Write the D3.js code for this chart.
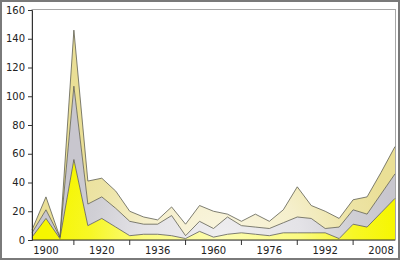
<!DOCTYPE html>
<html><head><meta charset="utf-8">
<script src="https://cdn.jsdelivr.net/npm/d3@7"></script>
<style>body{margin:0;background:#fff}svg{display:block}</style>
</head><body><script>
const years = [1896,1900,1904,1908,1912,1920,1924,1928,1932,1936,1948,1952,1956,1960,1964,1968,1972,1976,1980,1984,1988,1992,1996,2000,2004,2008,2012];
const gold   = [2,15,1,56,10,15,9,3,4,4,3,1,6,2,4,5,4,3,5,5,5,5,1,11,9,19,29];
const silver = [3,6,1,51,15,15,13,10,7,7,14,2,7,6,12,5,5,5,7,11,10,3,8,10,9,13,17];
const bronze = [2,9,0,39,16,13,12,7,5,3,6,8,11,12,2,3,9,5,9,21,9,12,6,7,12,15,19];
const seriesNames = ["gold","silver","bronze"];
const seriesColors = ["#f6f600","#c8c6ce","#eadf96"];
const yTicks = [0,20,40,60,80,100,120,140,160];
const xLabels = [1900,1920,1936,1960,1976,1992,2008];
const xTickYears = [1908,1928,1952,1968,1984,2000];

const W = 400, H = 260;
const m = {l:32, r:5, t:10, b:20};
const svg = d3.select("body").append("svg").attr("width",W).attr("height",H);

const table = years.map((y,i)=>({year:y, gold:gold[i], silver:silver[i], bronze:bronze[i]}));
const x = d3.scalePoint().domain(years).range([m.l, W-m.r]).padding(0);
const y = d3.scaleLinear().domain([0,160]).range([H-m.b, m.t]);

const stack = d3.stack().keys(seriesNames)(table);

const defs = svg.append("defs");
seriesColors.forEach((c,i)=>{
  const g = defs.append("radialGradient").attr("id","g"+i)
    .attr("gradientUnits","userSpaceOnUse")
    .attr("cx",0).attr("cy",0).attr("r",1)
    .attr("gradientTransform","translate(222,238) scale(175,140)");
  const mix = t => d3.interpolateRgb("#ffffff", c)(t);
  g.append("stop").attr("offset",0).attr("stop-color",mix(0.3));
  g.append("stop").attr("offset",0.45).attr("stop-color",mix(0.5));
  g.append("stop").attr("offset",0.75).attr("stop-color",mix(0.85));
  g.append("stop").attr("offset",1).attr("stop-color",c);
});

// frame
svg.append("rect").attr("x",1).attr("y",1).attr("width",W-2).attr("height",H-2)
  .attr("fill","none").attr("stroke","#7a7a7a").attr("stroke-width",2);
svg.append("rect").attr("x",m.l).attr("y",m.t-0.5).attr("width",W-m.r-m.l+0.5).attr("height",H-m.b-m.t+0.5)
  .attr("fill","#fff").attr("stroke","#a8a8a8").attr("stroke-width",1);

const area = d3.area().x(d=>x(d.data.year)).y0(d=>y(d[0])).y1(d=>y(d[1]));
const line = d3.line().x(d=>x(d.data.year)).y(d=>y(d[1]));
svg.selectAll("path.area").data(stack).join("path").attr("class","area")
  .attr("d",area).attr("fill",(d,i)=>`url(#g${i})`);
svg.selectAll("path.edge").data(stack).join("path").attr("class","edge")
  .attr("d",line).attr("fill","none").attr("stroke","#5e5e52").attr("stroke-width",0.8);

// y axis
const ya = svg.append("g").attr("transform",`translate(${m.l},0)`)
  .call(d3.axisLeft(y).tickValues(yTicks).tickSize(4).tickPadding(3));
ya.select(".domain").attr("stroke","#333");
ya.selectAll("line").attr("stroke","#333");
ya.selectAll("text").attr("font-family","DejaVu Sans").attr("font-size",10).attr("fill","#222");

// x axis: tick marks and labels
const xa = svg.append("g").attr("transform",`translate(0,${H-m.b})`);
xa.append("line").attr("x1",m.l).attr("x2",W-m.r).attr("y1",0).attr("y2",0).attr("stroke","#333");
xa.selectAll("line.t").data(xTickYears).join("line").attr("class","t")
  .attr("x1",d=>x(d)).attr("x2",d=>x(d)).attr("y1",0).attr("y2",5).attr("stroke","#333");
xa.selectAll("text").data(xLabels).join("text")
  .attr("x",d=>x(d)).attr("y",14).attr("text-anchor","middle")
  .attr("font-family","DejaVu Sans").attr("font-size",10).attr("fill","#222").text(d=>d);
</script></body></html>
